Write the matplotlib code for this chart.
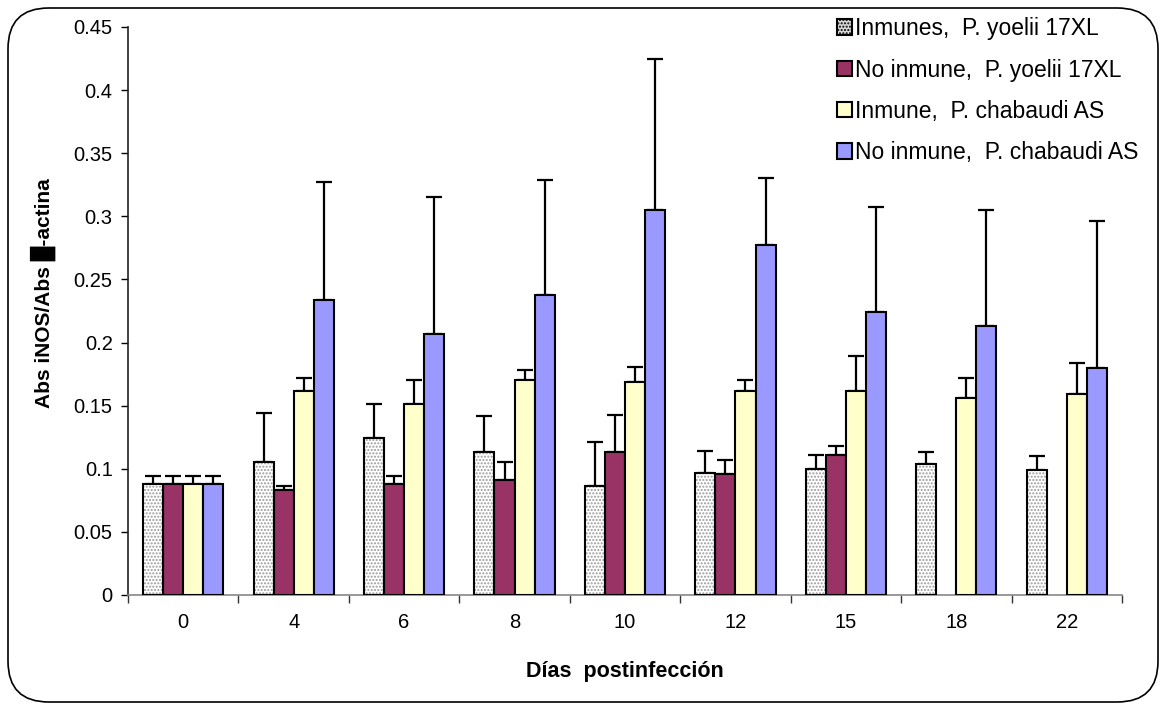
import matplotlib
matplotlib.use("Agg")
import matplotlib.pyplot as plt
import numpy as np
from matplotlib.patches import FancyBboxPatch, Patch

plt.rcParams['font.family'] = ['Liberation Sans', 'DejaVu Sans']

days = ["0", "4", "6", "8", "10", "12", "15", "18", "22"]
series_names = ["Inmunes,  P. yoelii 17XL", "No inmune,  P. yoelii 17XL",
                "Inmune,  P. chabaudi AS", "No inmune,  P. chabaudi AS"]
inm_yoelii = [0.088, 0.105, 0.124, 0.113, 0.086, 0.097, 0.100, 0.104, 0.099]
inm_yoelii_err = [0.006, 0.039, 0.027, 0.029, 0.035, 0.017, 0.011, 0.009, 0.011]
noinm_yoelii = [0.088, 0.083, 0.088, 0.091, 0.113, 0.096, 0.111, np.nan, np.nan]
noinm_yoelii_err = [0.006, 0.003, 0.006, 0.014, 0.030, 0.011, 0.007, np.nan, np.nan]
inm_chab = [0.088, 0.162, 0.151, 0.170, 0.169, 0.162, 0.162, 0.156, 0.159]
inm_chab_err = [0.006, 0.010, 0.019, 0.008, 0.012, 0.008, 0.027, 0.016, 0.025]
noinm_chab = [0.088, 0.234, 0.207, 0.238, 0.305, 0.277, 0.224, 0.213, 0.180]
noinm_chab_err = [0.006, 0.093, 0.108, 0.091, 0.120, 0.053, 0.083, 0.092, 0.116]

values = [inm_yoelii, noinm_yoelii, inm_chab, noinm_chab]
errors = [inm_yoelii_err, noinm_yoelii_err, inm_chab_err, noinm_chab_err]
colors = ["white", "#993366", "#FFFFCC", "#9999FF"]

W, H = 1165, 706
fig = plt.figure(figsize=(W / 100, H / 100), dpi=100)
ax = fig.add_axes([128 / W, 1 - 595 / H, (1122 - 128) / W, (595 - 27) / H])

x = np.arange(len(days))
bw = 0.1818
offsets = (np.arange(4) - 1.5) * bw
for i in range(4):
    v = np.array(values[i], dtype=float)
    e = np.array(errors[i], dtype=float)
    pos = x + offsets[i]
    mask = ~np.isnan(v)
    ax.errorbar(pos[mask], v[mask], yerr=[np.zeros(mask.sum()), e[mask]],
                fmt='none', ecolor='black', elinewidth=1.6, capsize=5.5,
                capthick=1.6, zorder=2)
    if i == 0:
        ax.bar(pos[mask], v[mask], width=bw, color='white', edgecolor='#9a9a9a',
               hatch='.....', linewidth=0, zorder=3)
        ax.bar(pos[mask], v[mask], width=bw, fill=False, edgecolor='black',
               linewidth=1.5, zorder=4)
    else:
        ax.bar(pos[mask], v[mask], width=bw, color=colors[i], edgecolor='black',
               linewidth=1.5, zorder=3)

ax.set_xlim(-0.5, len(days) - 0.5)
ax.set_ylim(0, 0.45)
ax.set_yticks(np.arange(0, 0.4501, 0.05))
ax.set_yticklabels(["0", "0.05", "0.1", "0.15", "0.2", "0.25", "0.3", "0.35", "0.4", "0.45"])
ax.set_xticks(x)
ax.set_xticklabels(days)
ax.set_xticks(np.arange(-0.5, len(days)), minor=True)
ax.tick_params(axis='x', which='major', length=0, pad=13, labelsize=14.5)
ax.tick_params(axis='x', which='minor', length=6, width=1, color='#333333', direction='out')
ax.tick_params(axis='y', length=5, width=1, direction='out', labelsize=14.5, pad=6)
for s in ['top', 'right']:
    ax.spines[s].set_visible(False)
ax.spines['left'].set_color('#222222')
ax.spines['bottom'].set_color('#888888')
ax.spines['left'].set_linewidth(1.2)
ax.spines['bottom'].set_linewidth(1.2)

ax.set_xlabel("Días  postinfección", fontsize=15.5, fontweight='bold', labelpad=21)
ax.set_ylabel("Abs iNOS/Abs \u2588-actina", fontsize=15, fontweight='bold')
ax.yaxis.set_label_coords((56 - 128) / 994, (595 - 293) / 568)

handles = [Patch(facecolor='#d8d8d8', edgecolor='black', linewidth=1.5),
           Patch(facecolor=colors[1], edgecolor='black', linewidth=1.5),
           Patch(facecolor=colors[2], edgecolor='black', linewidth=1.5),
           Patch(facecolor=colors[3], edgecolor='black', linewidth=1.5)]
handles[0].set_hatch('.....')
fig.legend(handles, series_names, loc='upper left', bbox_to_anchor=(828 / W, 1 - 8 / H),
           frameon=False, fontsize=16.5, handlelength=0.65, handleheight=0.65,
           handletextpad=0.12, labelspacing=0.8, borderaxespad=0)

frame = FancyBboxPatch((8 / W, 4 / H), (1158 - 8) / W, (698 - 4) / H,
                       boxstyle="round,pad=0,rounding_size=0.035",
                       transform=fig.transFigure, fill=False, edgecolor='black',
                       linewidth=1.2, mutation_aspect=W / H)
fig.patches.append(frame)

fig.savefig("out.png", dpi=100)
